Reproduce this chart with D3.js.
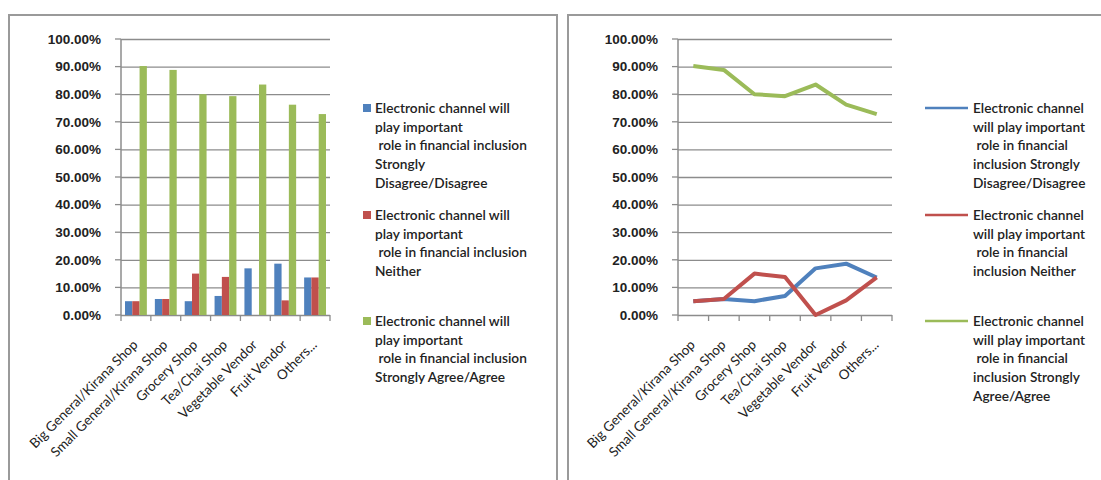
<!DOCTYPE html>
<html>
<head>
<meta charset="utf-8">
<style>
    body { margin: 0; background: #fff; }
    svg { display: block; font-family: Lato, 'Open Sans', Arial, sans-serif; }
    .grid line { stroke: #8c8c8c; stroke-width: 1.3; }
    .tick text { fill: #222; }
</style>
</head>
<body>
<svg id="chart" width="1101" height="480"></svg>
<script src="https://d3js.org/d3.v7.min.js"></script>
<script>
// data
const categories = ["Big General/Kirana Shop", "Small General/Kirana Shop", "Grocery Shop",
    "Tea/Chai Shop", "Vegetable Vendor", "Fruit Vendor", "Others..."]
const disagree = [5.0, 5.8, 5.0, 6.9, 16.9, 18.6, 13.6]
const neither = [5.0, 5.8, 15.0, 13.8, 0.0, 5.3, 13.6]
const agree = [90.2, 88.8, 80.0, 79.3, 83.5, 76.2, 72.8]
const yTicks = [0, 10, 20, 30, 40, 50, 60, 70, 80, 90, 100]
const seriesNames = ["Disagree", "Neither", "Agree"]
const colors = ["#4f81bd", "#c0504d", "#9bbb59"]

// legend text lines, as wrapped in each panel
const barLegend = [
    ["Electronic channel will", "play important", "\u00a0role in financial inclusion", "Strongly", "Disagree/Disagree"],
    ["Electronic channel will", "play important", "\u00a0role in financial inclusion", "Neither"],
    ["Electronic channel will", "play important", "\u00a0role in financial inclusion", "Strongly Agree/Agree"]
]
const lineLegend = [
    ["Electronic channel", "will play important", "\u00a0role in financial", "inclusion Strongly", "Disagree/Disagree"],
    ["Electronic channel", "will play important", "\u00a0role in financial", "inclusion Neither"],
    ["Electronic channel", "will play important", "\u00a0role in financial", "inclusion Strongly", "Agree/Agree"]
]
const legendTops = [108, 215, 321]

const data = [disagree, neither, agree]
const svg = d3.select("#chart")

// panel borders
svg.append("rect").attr("x", 9).attr("y", 15).attr("width", 548).attr("height", 480)
    .style("fill", "none").style("stroke", "#9a9a9a").style("stroke-width", 2)
svg.append("rect").attr("x", 568).attr("y", 15).attr("width", 560).attr("height", 480)
    .style("fill", "none").style("stroke", "#9a9a9a").style("stroke-width", 2)

function drawAxes(g, x, y, left, right) {
    let yAxis = d3.axisLeft(y)
        .tickValues(yTicks)
        .tickSize(-(right - left))
        .tickPadding(20)
        .tickFormat(d => d.toFixed(2) + "%")
    g.append("g")
        .attr("class", "grid")
        .attr("transform", `translate(${left},0)`)
        .call(yAxis)
        .call(a => a.select(".domain").remove())
        .call(a => a.selectAll(".tick text").style("font-size", "13.5px").style("font-weight", "600"))
    // small outward ticks on the left
    g.append("g").selectAll("line").data(yTicks).join("line")
        .attr("x1", left - 6).attr("x2", left)
        .attr("y1", d => y(d)).attr("y2", d => y(d))
        .style("stroke", "#8c8c8c").style("stroke-width", 1.3)
    g.append("line")
        .attr("x1", left).attr("x2", left)
        .attr("y1", y(100)).attr("y2", y(0))
        .style("stroke", "#8c8c8c").style("stroke-width", 1.5)

    // x ticks at band edges
    let edges = categories.map(c => x(c)).concat([x(categories[categories.length - 1]) + x.bandwidth()])
    g.append("g").selectAll("line").data(edges).join("line")
        .attr("x1", d => d).attr("x2", d => d)
        .attr("y1", y(0)).attr("y2", y(0) + 6)
        .style("stroke", "#8c8c8c").style("stroke-width", 1.3)

    g.append("g").selectAll("text").data(categories).join("text")
        .attr("transform", d => `translate(${x(d) + x.bandwidth() / 2 - 4},${y(0) + 24}) rotate(-45)`)
        .attr("text-anchor", "end")
        .attr("dy", "0.7em")
        .style("font-size", "13.5px")
        .style("fill", "#222")
        .text(d => d)
}

function drawLegend(g, lines, x0, marker) {
    lines.forEach((entry, i) => {
        let top = legendTops[i]
        marker(g, i, top)
        g.append("text")
            .attr("x", x0)
            .attr("y", top)
            .style("font-size", "13.7px")
            .style("font-weight", "600")
            .style("fill", "#222")
            .selectAll("tspan").data(entry).join("tspan")
            .attr("x", x0)
            .attr("y", (d, j) => top + j * 18.8)
            .attr("dy", "0.35em")
            .text(d => d)
    })
}

// Plot 1: clustered bars
{
    let g = svg.append("g")
    let left = 121, right = 330
    let x = d3.scaleBand().domain(categories).range([left, right])
    let y = d3.scaleLinear().domain([0, 100]).range([315, 39])
    drawAxes(g, x, y, left, right)

    let x1 = d3.scaleBand().domain(seriesNames).range([4, x.bandwidth() - 4])
    data.forEach((vals, s) => {
        g.append("g").selectAll("rect").data(vals).join("rect")
            .attr("x", (d, i) => x(categories[i]) + x1(seriesNames[s]))
            .attr("y", d => y(d))
            .attr("width", x1.bandwidth())
            .attr("height", d => y(0) - y(d))
            .style("fill", colors[s])
    })

    drawLegend(g, barLegend, 375, (g, i, top) => {
        g.append("rect").attr("x", 363).attr("y", top - 4).attr("width", 8).attr("height", 8)
            .style("fill", colors[i])
    })
}

// Plot 2: lines
{
    let g = svg.append("g")
    let left = 678, right = 892
    let x = d3.scaleBand().domain(categories).range([left, right])
    let y = d3.scaleLinear().domain([0, 100]).range([315, 39])
    drawAxes(g, x, y, left, right)

    let line = d3.line()
        .x((d, i) => x(categories[i]) + x.bandwidth() / 2)
        .y(d => y(d))
    data.forEach((vals, s) => {
        g.append("path")
            .attr("d", line(vals))
            .style("fill", "none")
            .style("stroke", colors[s])
            .style("stroke-width", 4)
            .style("stroke-linejoin", "round")
    })

    drawLegend(g, lineLegend, 973, (g, i, top) => {
        g.append("line").attr("x1", 925).attr("x2", 968).attr("y1", top).attr("y2", top)
            .style("stroke", colors[i]).style("stroke-width", 2.5)
    })
}
</script>
</body>
</html>
